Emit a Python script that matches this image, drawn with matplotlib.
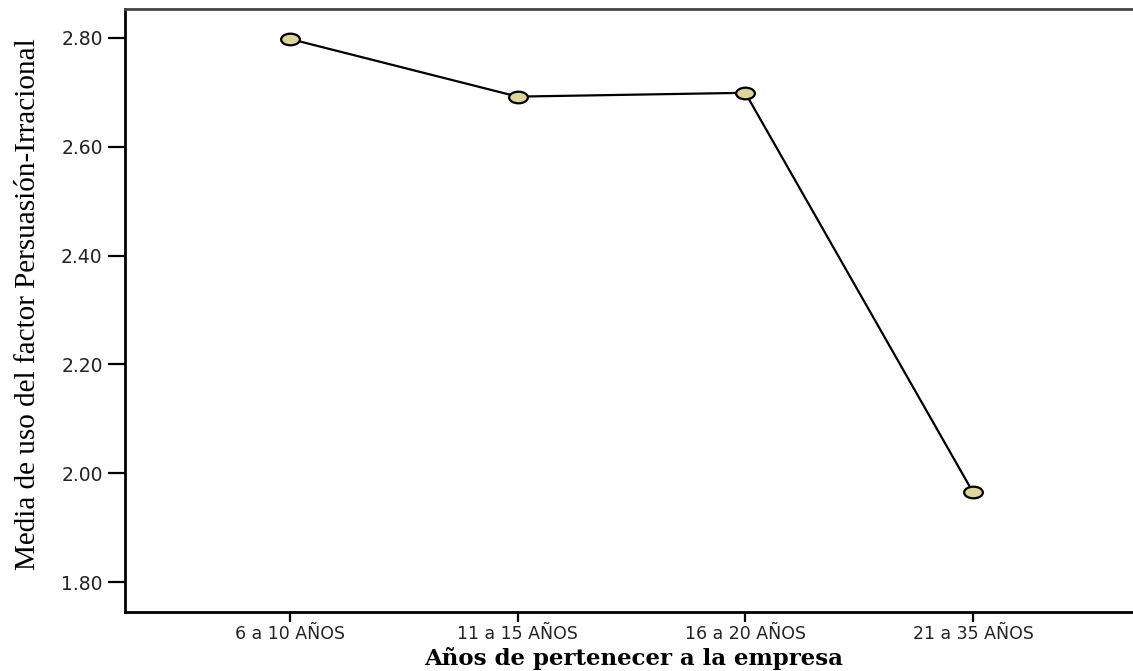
import numpy as np
import matplotlib.pyplot as plt
from matplotlib.path import Path
from matplotlib.transforms import Affine2D

categories = ["6 a 10 AÑOS", "11 a 15 AÑOS", "16 a 20 AÑOS", "21 a 35 AÑOS"]
medias = [2.798, 2.692, 2.699, 1.965]
y_ticks = [1.80, 2.00, 2.20, 2.40, 2.60, 2.80]

# flattened circle marker, like the stretched original
ellipse = Path.unit_circle().transformed(Affine2D().scale(1.0, 0.62))

fig = plt.figure(figsize=(11.33, 6.71), dpi=100)
ax = fig.add_axes([0.1103, 0.0879, 0.894, 0.8987])

x = np.arange(len(categories))
ax.plot(x, medias, color="black", lw=1.6, marker=ellipse, markersize=13.5,
        markerfacecolor="#dcd69e", markeredgecolor="black", markeredgewidth=1.6)

ax.set_xlim(-0.724, 3.724)
ax.set_ylim(1.745, 2.853)
ax.set_xticks(x)
ax.set_xticklabels(categories, fontsize=12.5, family="DejaVu Sans", color="#222222")
ax.set_yticks(y_ticks)
ax.set_yticklabels([f"{v:.2f}" for v in y_ticks], fontsize=13.5, family="DejaVu Sans",
                   color="#222222")
ax.tick_params(axis="y", direction="out", length=12, width=1.6, pad=4)
ax.tick_params(axis="x", direction="out", length=7, width=1.6, pad=2)

for s in ["left", "bottom", "top", "right"]:
    ax.spines[s].set_linewidth(2)
ax.spines["top"].set_color("#444444")

fig.text(0.025, 0.547, "Media de uso del factor Persuasión-Irracional", rotation=90,
         ha="center", va="center", fontsize=21, family="Liberation Serif")
fig.text(0.559, 0.001, "Años de pertenecer a la empresa", ha="center", va="bottom",
         fontsize=16.5, fontweight="bold", family="DejaVu Serif")

fig.savefig("out.png", dpi=100)
